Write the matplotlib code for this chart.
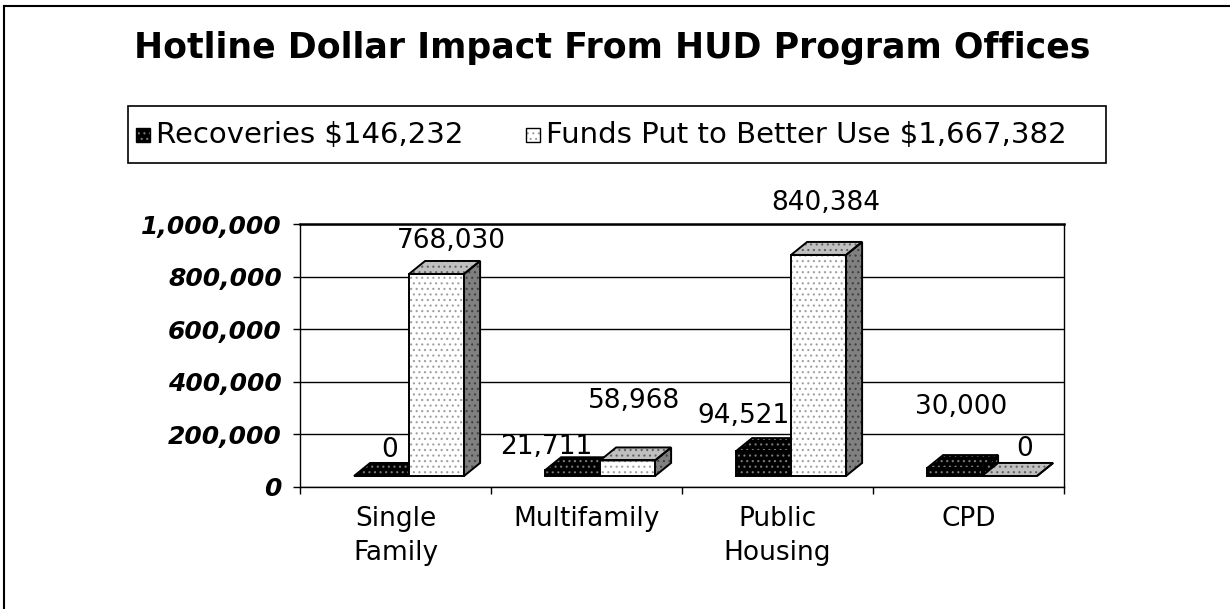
import matplotlib
matplotlib.use("Agg")
import matplotlib.pyplot as plt
from matplotlib.patches import Polygon, Rectangle
from matplotlib.lines import Line2D

# data
categories = ["Single\nFamily", "Multifamily", "Public\nHousing", "CPD"]
recoveries = [0, 21711, 94521, 30000]
funds_better_use = [768030, 58968, 840384, 0]
legend_labels = ["Recoveries $146,232", "Funds Put to Better Use $1,667,382"]
title = "Hotline Dollar Impact From HUD Program Offices"
yticks = [0, 200000, 400000, 600000, 800000, 1000000]

# label nudges (pixels) from the back-left corner of each bar top
rec_label_off = [(36, 13), (1, 10), (7, 22), (34, 48)]
fund_label_off = [(42, 20), (34, 46), (35, 39), (43, 14)]

plt.rcParams['font.family'] = ['DejaVu Sans']
plt.rcParams['hatch.linewidth'] = 0.8

W, H = 1230, 609
def fx(px):
    return px / W
def fy(py):
    return 1 - py / H

fig = plt.figure(figsize=(W / 100, H / 100), dpi=100)
ax = fig.add_axes([fx(300), fy(487), fx(1064) - fx(300), fy(224) - fy(487)])

BASE = 42000     # front of the bars sits a bit above the axis line
DX, DY = 0.084, 49400   # fake 3d depth
BAR_W = 0.288

def draw_bar(x0, v, faces, dots, z):
    b = BASE
    t = BASE + v
    front = [(x0, b), (x0 + BAR_W, b), (x0 + BAR_W, t), (x0, t)]
    top = [(x0, t), (x0 + BAR_W, t), (x0 + BAR_W + DX, t + DY), (x0 + DX, t + DY)]
    side = [(x0 + BAR_W, b), (x0 + BAR_W + DX, b + DY), (x0 + BAR_W + DX, t + DY), (x0 + BAR_W, t)]
    for poly, fc, dc in zip([front, top, side], faces, dots):
        ax.add_patch(Polygon(poly, closed=True, facecolor=fc, edgecolor=dc, hatch='...',
                             lw=0, zorder=z, clip_on=False))
        ax.add_patch(Polygon(poly, closed=True, fill=False, edgecolor='black', lw=1.4,
                             joinstyle='miter', zorder=z + 0.01, clip_on=False))

dark_faces = ['#000000', '#000000', '#000000']
dark_dots = ['#7a7a7a', '#7a7a7a', '#7a7a7a']
light_faces = ['#ffffff', '#c0c0c0', '#808080']
light_dots = ['#a0a0a0', '#606060', '#404040']

def px2pt(p):
    return p * 72 / 100

z = 3
for i in range(len(categories)):
    x_rec = i + 0.283
    x_fund = x_rec + BAR_W
    draw_bar(x_rec, recoveries[i], dark_faces, dark_dots, z)
    z += 0.1
    draw_bar(x_fund, funds_better_use[i], light_faces, light_dots, z)
    z += 0.1
    for x0, v, off in [(x_rec, recoveries[i], rec_label_off[i]),
                       (x_fund, funds_better_use[i], fund_label_off[i])]:
        ax.annotate(f"{v:,}", xy=(x0, BASE + v + DY),
                    xytext=(px2pt(off[0]), px2pt(off[1])), textcoords='offset points',
                    ha='center', va='center', fontsize=19, zorder=10,
                    annotation_clip=False)

ax.set_xlim(0, 4)
ax.set_ylim(0, 1000000)
ax.set_yticks(yticks)
ax.set_yticklabels([f"{v:,}" for v in yticks], fontsize=18, fontweight='bold', style='italic')
ax.set_xticks(range(5))
ax.set_xticklabels([])
ax.set_xticks([i + 0.5 for i in range(4)], minor=True)
ax.set_xticklabels(categories, minor=True, fontsize=19, linespacing=1.4)
ax.tick_params(axis='x', which='major', length=5, width=1, direction='out')
ax.tick_params(axis='x', which='minor', length=0, pad=14)
ax.tick_params(axis='y', length=5, width=1, pad=8)
ax.yaxis.grid(True, color='black', lw=1)
ax.set_axisbelow(True)
for s in ax.spines.values():
    s.set_linewidth(1)
ax.spines['top'].set_linewidth(1.8)

# title
fig.text(fx(612), fy(58), title, ha='center', va='baseline', fontsize=25, fontweight='bold')

# legend box
fig.add_artist(Rectangle((fx(128), fy(163)), fx(1106) - fx(128), fy(106) - fy(163),
                         transform=fig.transFigure, fill=False, edgecolor='black', lw=1.2))
sq = 14
for x_sq, fc, dc, label, x_txt in [(136, '#000000', '#7a7a7a', legend_labels[0], 156),
                                   (526, '#ffffff', '#a0a0a0', legend_labels[1], 546)]:
    fig.add_artist(Rectangle((fx(x_sq), fy(142)), sq / W, sq / H, transform=fig.transFigure,
                             facecolor=fc, edgecolor=dc, hatch='...', lw=0))
    fig.add_artist(Rectangle((fx(x_sq), fy(142)), sq / W, sq / H, transform=fig.transFigure,
                             fill=False, edgecolor='black', lw=1))
    fig.text(fx(x_txt), fy(143), label, ha='left', va='baseline', fontsize=21)

# outer frame (only left and top visible)
fig.add_artist(Line2D([fx(4), fx(4)], [fy(6), 0], transform=fig.transFigure, color='black', lw=1.5))
fig.add_artist(Line2D([fx(4), 1], [fy(6), fy(6)], transform=fig.transFigure, color='black', lw=1.5))

fig.savefig("out.png", dpi=100)
